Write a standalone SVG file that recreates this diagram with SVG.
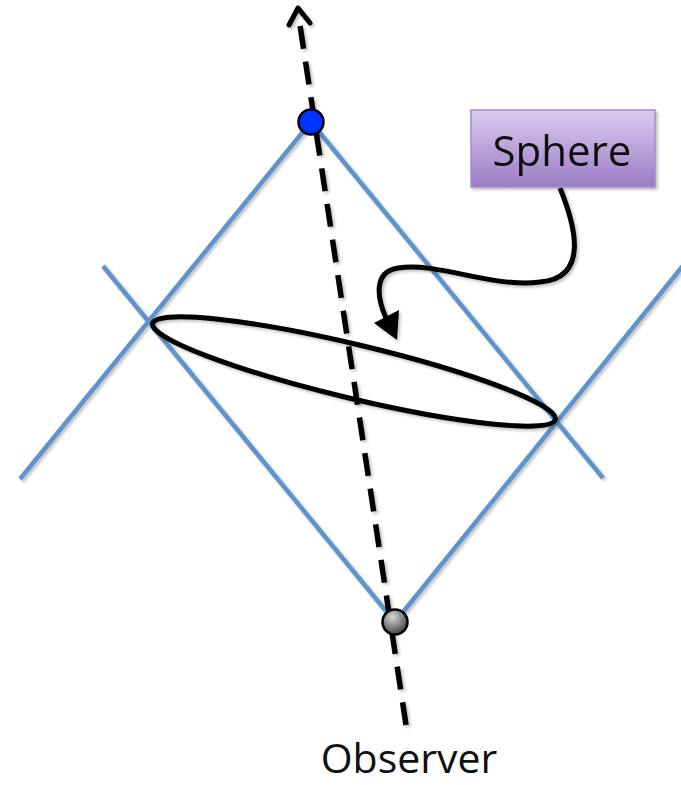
<svg xmlns="http://www.w3.org/2000/svg" width="681" height="785" viewBox="0 0 681 785">
<defs>
<linearGradient id="boxGrad" x1="0" y1="0" x2="0" y2="1">
<stop offset="0" stop-color="#dccaf2"/>
<stop offset="1" stop-color="#9b7cc3"/>
</linearGradient>
<radialGradient id="grayGrad" cx="0.4" cy="0.3" r="0.75">
<stop offset="0" stop-color="#d8d8d8"/>
<stop offset="1" stop-color="#3a3a3a"/>
</radialGradient>
<filter id="shadow" x="-10%" y="-10%" width="130%" height="130%">
<feDropShadow dx="2" dy="2" stdDeviation="1.5" flood-color="#000" flood-opacity="0.25"/>
</filter>
<style>
.cone{stroke:#5e93cd;stroke-width:4.5;fill:none;stroke-linecap:butt}
.blk{stroke:#000;fill:none;stroke-width:5}
.lbl{font-family:"Open Sans","Noto Sans",sans-serif;font-size:42px;fill:#111;text-anchor:middle}
</style>
</defs>
<g id="cones" filter="url(#shadow)">
<line class="cone" x1="20" y1="479" x2="311" y2="122"/>
<line class="cone" x1="311" y1="122" x2="603" y2="478"/>
<line class="cone" x1="103" y1="266" x2="395" y2="622"/>
<line class="cone" x1="395" y1="622" x2="686" y2="262"/>
</g>
<g id="sphere-ellipse" filter="url(#shadow)">
<ellipse cx="354" cy="371.5" rx="207" ry="27" transform="rotate(13.4 354 371.5)" class="blk"/>
</g>
<g id="connectors">
<g id="worldline" filter="url(#shadow)">
<line x1="406" y1="725" x2="298" y2="12" stroke="#000" stroke-width="5.5" stroke-dasharray="23 13"/>
<polyline points="289,25 298,8 310,23" fill="none" stroke="#000" stroke-width="5" stroke-linecap="round" stroke-linejoin="round"/>
</g>
<g id="sphere-arrow" filter="url(#shadow)">
<path class="blk" d="M560,188 C575,225 590,278 540,282 C490,288 440,262 398,268 C372,272 378,300 386,318"/>
<polygon points="397,340 374,323 399,310" fill="#000"/>
</g>
</g>
<g id="event-top">
<circle cx="311" cy="122" r="12.5" fill="#0033ff" stroke="#000" stroke-width="2.5"/>
</g>
<g id="observer-point">
<circle cx="395" cy="622" r="12.5" fill="url(#grayGrad)" stroke="#000" stroke-width="2.5"/>
</g>
<g id="sphere-label" filter="url(#shadow)">
<rect x="471" y="110" width="184" height="77" fill="url(#boxGrad)" stroke="#a58bc8" stroke-width="1.5"/>
<text class="lbl" x="562" y="166">Sphere</text>
</g>
<g id="observer-label">
<text class="lbl" x="409" y="773" style="font-size:41px">Observer</text>
</g>
</svg>
